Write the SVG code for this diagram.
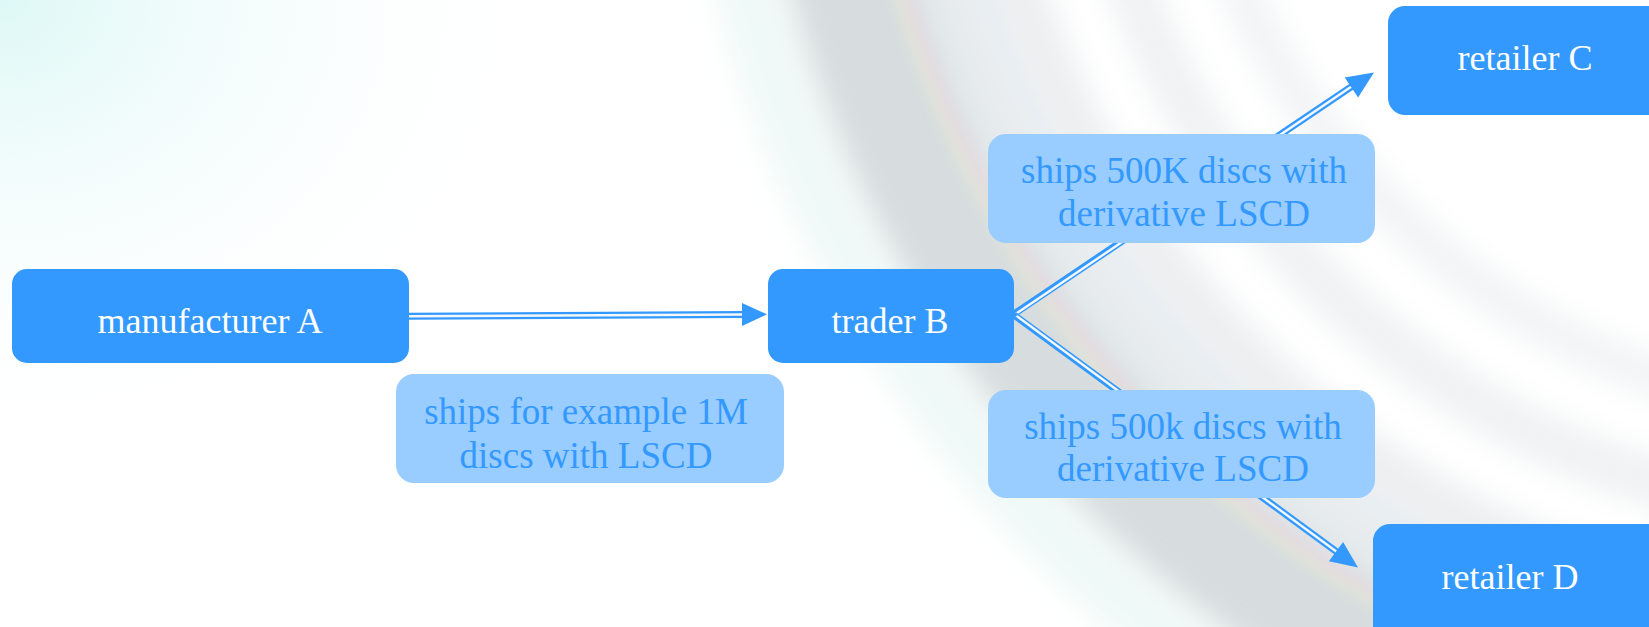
<svg xmlns="http://www.w3.org/2000/svg" width="1649" height="627" viewBox="0 0 1649 627">
  <defs>
    <style>
      .node rect { fill: #3399ff; }
      .node text { fill: #ffffff; font-family: "Liberation Serif", "Times New Roman", serif; font-size: 36px; text-anchor: middle; }
      .label rect { fill: #99ccff; }
      .label text { fill: #3399ff; font-family: "Liberation Serif", "Times New Roman", serif; font-size: 37px; text-anchor: middle; }
      .edge-outer { fill: none; stroke: #3399ff; stroke-width: 7; }
      .edge-inner { fill: none; stroke: #f4f8f8; stroke-width: 2.4; }
      .head { fill: #3399ff; }
    </style>
    <radialGradient id="cyanTint" cx="0" cy="0" r="1" gradientUnits="userSpaceOnUse" gradientTransform="translate(0 0) scale(560 460)">
      <stop offset="0" stop-color="#ddf8f6"/>
      <stop offset="1" stop-color="#ffffff" stop-opacity="0"/>
    </radialGradient>
    <filter id="blur" x="-20%" y="-20%" width="140%" height="140%">
      <feGaussianBlur stdDeviation="14"/>
    </filter>
    <filter id="blurS" x="-20%" y="-20%" width="140%" height="140%">
      <feGaussianBlur stdDeviation="6"/>
    </filter>
  </defs>

  <!-- background -->
  <rect x="0" y="0" width="1649" height="627" fill="#ffffff"/>
  <rect x="0" y="0" width="1649" height="627" fill="url(#cyanTint)"/>
  <g filter="url(#blur)" fill="none">
    <circle cx="1900" cy="-300" r="1085" stroke="#cdd4d6" stroke-width="130" opacity="0.8"/>
    <circle cx="1900" cy="-300" r="1000" stroke="#dde2e6" stroke-width="70" opacity="0.7"/>
    <circle cx="1900" cy="-300" r="930" stroke="#e1e4e8" stroke-width="60" opacity="0.6"/>
    <circle cx="1900" cy="-300" r="820" stroke="#e4e7ea" stroke-width="50" opacity="0.55"/>
    <circle cx="1900" cy="-300" r="720" stroke="#e6eaec" stroke-width="40" opacity="0.5"/>
    <circle cx="1900" cy="-300" r="1190" stroke="#e4f5f2" stroke-width="60" opacity="0.6"/>
  </g>
  <g filter="url(#blurS)" fill="none" opacity="0.35">
    <circle cx="1900" cy="-300" r="1035" stroke="#f6d0dc" stroke-width="10"/>
    <circle cx="1900" cy="-300" r="1045" stroke="#f4f0c8" stroke-width="8"/>
    <circle cx="1900" cy="-300" r="960" stroke="#d8e8f8" stroke-width="10"/>
  </g>

  <!-- connectors -->
  <g id="connectors">
    <g id="edge-A-B">
      <path class="edge-outer" d="M409,316.3 L744,314.5"/>
      <path class="edge-inner" d="M409,316.3 L744,314.5"/>
      <polygon class="head" points="767,314.3 742,303 742,326"/>
    </g>
    <g id="edge-B-C">
      <path class="edge-outer" d="M1014,314 L1353,85.6"/>
      <path class="edge-inner" d="M1016,313.8 L1353,85.6"/>
      <polygon class="head" points="1374,72.5 1358.1,97.5 1344.7,77.6"/>
    </g>
    <g id="edge-B-D">
      <path class="edge-outer" d="M1014,315 L1338,552.8"/>
      <path class="edge-inner" d="M1016,315.4 L1338,552.8"/>
      <polygon class="head" points="1358,567.5 1328.9,561.3 1343.1,541.9"/>
    </g>
    <path d="M1012,312 L1018,315 L1012,318 Z" fill="#3399ff"/>
  </g>

  <!-- edge labels -->
  <g id="label-A-B" class="label">
    <rect x="396" y="374" width="388" height="109" rx="18"/>
    <text x="586" y="424">ships for example 1M</text>
    <text x="586" y="468">discs with LSCD</text>
  </g>
  <g id="label-B-C" class="label">
    <rect x="988" y="134" width="387" height="109" rx="18"/>
    <text x="1184" y="183">ships 500K discs with</text>
    <text x="1184" y="226">derivative LSCD</text>
  </g>
  <g id="label-B-D" class="label">
    <rect x="988" y="390" width="387" height="108" rx="18"/>
    <text x="1183" y="439">ships 500k discs with</text>
    <text x="1183" y="481">derivative LSCD</text>
  </g>

  <!-- nodes -->
  <g id="manufacturer-A" class="node">
    <rect x="12" y="269" width="397" height="94" rx="15"/>
    <text x="210" y="333">manufacturer A</text>
  </g>
  <g id="trader-B" class="node">
    <rect x="768" y="269" width="246" height="94" rx="15"/>
    <text x="890" y="333">trader B</text>
  </g>
  <g id="retailer-C" class="node">
    <rect x="1388" y="6" width="280" height="109" rx="17"/>
    <text x="1525" y="70">retailer C</text>
  </g>
  <g id="retailer-D" class="node">
    <rect x="1373" y="524" width="295" height="130" rx="17"/>
    <text x="1510" y="589">retailer D</text>
  </g>
</svg>
